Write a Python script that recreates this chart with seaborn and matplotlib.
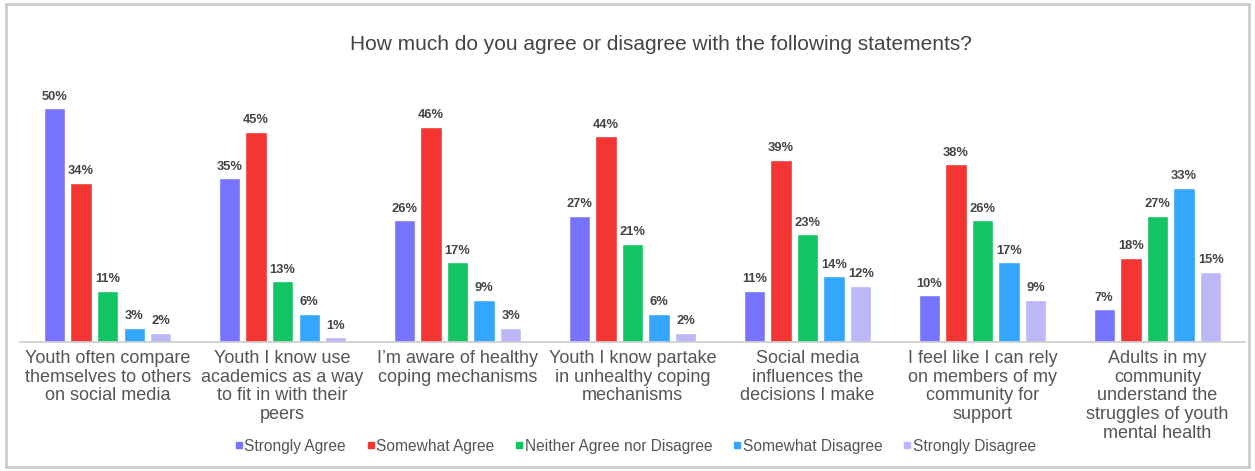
import matplotlib
matplotlib.use("Agg")
import matplotlib.pyplot as plt
from matplotlib.lines import Line2D
from matplotlib.patches import Rectangle
import seaborn as sns
import pandas as pd

statements = [
    "Youth often compare\nthemselves to others\non social media",
    "Youth I know use\nacademics as a way\nto fit in with their\npeers",
    "I\u2019m aware of healthy\ncoping mechanisms",
    "Youth I know partake\nin unhealthy coping\nmechanisms",
    "Social media\ninfluences the\ndecisions I make",
    "I feel like I can rely\non members of my\ncommunity for\nsupport",
    "Adults in my\ncommunity\nunderstand the\nstruggles of youth\nmental health",
]
responses = ["Strongly Agree", "Somewhat Agree", "Neither Agree nor Disagree",
             "Somewhat Disagree", "Strongly Disagree"]
strongly_agree = [50, 35, 26, 27, 11, 10, 7]
somewhat_agree = [34, 45, 46, 44, 39, 38, 18]
neither = [11, 13, 17, 21, 23, 26, 27]
somewhat_disagree = [3, 6, 9, 6, 14, 17, 33]
strongly_disagree = [2, 1, 3, 2, 12, 9, 15]
colors = ["#7674FD", "#F33533", "#12C463", "#35A6FD", "#BCB8F8"]

series = [strongly_agree, somewhat_agree, neither, somewhat_disagree, strongly_disagree]
rows = []
for resp, vals in zip(responses, series):
    for st, v in zip(statements, vals):
        rows.append({"statement": st, "response": resp, "pct": v})
df = pd.DataFrame(rows)

sns.set_theme(style="white")
plt.rcParams["font.family"] = ["Liberation Sans", "DejaVu Sans"]

fig = plt.figure(figsize=(12.55, 4.71), dpi=100)
ax = fig.add_axes([0.016, 0.274, 0.976, 0.546])

sns.barplot(data=df, x="statement", y="pct", hue="response", order=statements,
            hue_order=responses, palette=colors, width=0.76, gap=0.2,
            saturation=1, legend=False, ax=ax)

for cont in ax.containers:
    ax.bar_label(cont, fmt="%.0f%%", padding=4, fontsize=9.3,
                 fontweight="bold", color="#444444")

ax.set_ylim(0, 55)
ax.set_xlim(-0.5, 6.5)
ax.set_xlabel("")
ax.set_ylabel("")
ax.set_yticks([])
for s in ["top", "right", "left"]:
    ax.spines[s].set_visible(False)
ax.spines["bottom"].set_color("#CCCCCC")
ax.spines["bottom"].set_linewidth(1.2)
ax.tick_params(axis="x", length=0, pad=6, labelsize=13, labelcolor="#555555")
for lbl in ax.get_xticklabels():
    lbl.set_linespacing(1.12)

fig.text(0.527, 0.906, "How much do you agree or disagree with the following statements?",
         ha="center", va="center", fontsize=15, color="#444444")

handles = [Line2D([], [], marker="s", linestyle="none", markersize=5,
                  markerfacecolor=c, markeredgecolor=c) for c in colors]
fig.legend(handles, responses, loc="center", bbox_to_anchor=(0.506, 0.053), ncol=5,
           frameon=False, fontsize=11.2, handletextpad=0.05, columnspacing=1.3,
           handlelength=0.6, labelcolor="#555555")

fig.patches.append(Rectangle((0.005, 0.008), 0.99, 0.984, transform=fig.transFigure,
                             fill=False, edgecolor="#CCCCCC", linewidth=2))

fig.savefig("out.png", dpi=100, facecolor="white")
